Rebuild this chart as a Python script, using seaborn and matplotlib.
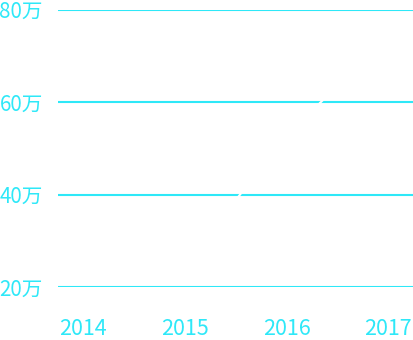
import matplotlib
matplotlib.use("Agg")
import matplotlib.pyplot as plt
import seaborn as sns
import pandas as pd

years = ["2014", "2015", "2016", "2017"]
values = [23, 25, 52.6, 74.4]  # 万
yticks = [20, 40, 60, 80]
ytick_labels = ["20万", "40万", "60万", "80万"]

cyan = "#2ee8f8"

sns.set_theme(style="white")
plt.rcParams["font.family"] = ["Noto Sans CJK SC", "DejaVu Sans"]

df = pd.DataFrame({"x": range(len(years)), "year": years, "value": values})

fig = plt.figure(figsize=(4.13, 3.40), dpi=100)
fig.patch.set_facecolor("white")
ax = fig.add_axes([58 / 413, (340 - 287) / 340, 355 / 413, (287 - 9.5) / 340])
ax.set_facecolor("white")

ax.set_ylim(20, 80)
ax.set_xlim(-0.249, 3.245)
ax.set_yticks(yticks)
ax.set_yticklabels(ytick_labels)
ax.set_xticks(range(len(years)))
ax.set_xticklabels(years)
ax.yaxis.grid(True, color=cyan, linewidth=1.5)
ax.xaxis.grid(False)
ax.set_axisbelow(True)
for s in ax.spines.values():
    s.set_visible(False)
ax.tick_params(axis="y", length=0, pad=11, labelsize=14.8, labelcolor=cyan)
ax.tick_params(axis="x", length=0, pad=22.5, labelsize=15.5, labelcolor=cyan)

sns.lineplot(data=df, x="x", y="value", ax=ax, color="white", linewidth=1.5,
             clip_on=False)
ax.set_xlabel("")
ax.set_ylabel("")

fig.savefig("out.png", dpi=100, facecolor="white")
